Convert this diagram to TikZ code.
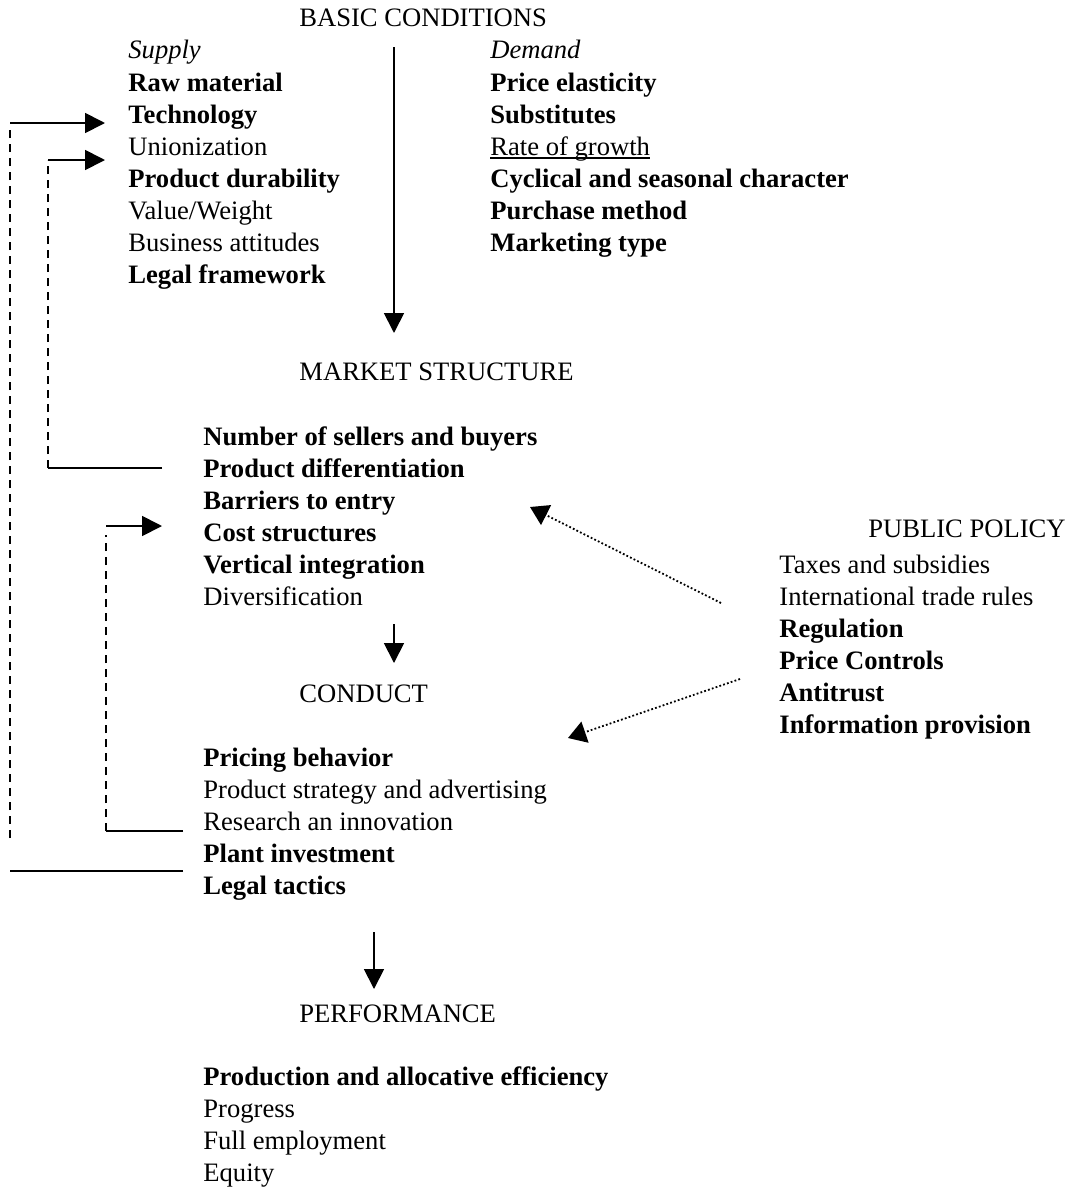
\documentclass[tikz,border=0pt]{standalone}
\usepackage{fontspec}
\setmainfont{Liberation Serif}
\usetikzlibrary{arrows.meta}
\tikzset{
  txt/.style={anchor=base west,inner sep=0pt,font=\fontsize{13.3}{16}\selectfont},
  flow/.style={line width=0.9pt,-{Triangle[width=10pt,length=10pt]}},
  feed/.style={line width=0.9pt},
  back/.style={line width=0.6pt,dash pattern=on 4pt off 3pt},
  pol/.style={line width=0.9pt,dash pattern=on 0.9pt off 1.1pt,-{Triangle[width=11pt,length=9pt]}}
}
\begin{document}
\begin{tikzpicture}[x=0.5pt,y=-0.5pt]
  \useasboundingbox (0,0) rectangle (1071,1190);
  % Basic conditions
  \node[txt] (basic) at (299,26) {BASIC CONDITIONS};
  \node[txt] (supply) at (128,58) {\itshape Supply};
  \node[txt] (demand) at (490,58) {\itshape Demand};
  \foreach \t [count=\i] in {\bfseries Raw material,\bfseries Technology,Unionization,
    \bfseries Product durability,Value/Weight,Business attitudes,\bfseries Legal framework}
    \node[txt] (sup\i) at (128,{59+32*\i}) {\t};
  \foreach \t [count=\i] in {\bfseries Price elasticity,\bfseries Substitutes,Rate of growth,
    \bfseries Cyclical and seasonal character,\bfseries Purchase method,\bfseries Marketing type}
    \node[txt] (dem\i) at (490,{59+32*\i}) {\t};
  \draw[line width=0.9pt] ([yshift=-1.5pt]dem3.base west) -- ([yshift=-1.5pt]dem3.base east);
  % Market structure
  \node[txt] (market) at (299,380) {MARKET STRUCTURE};
  \foreach \t [count=\i] in {\bfseries Number of sellers and buyers,\bfseries Product differentiation,
    \bfseries Barriers to entry,\bfseries Cost structures,\bfseries Vertical integration,Diversification}
    \node[txt] (ms\i) at (203,{413+32*\i}) {\t};
  % Conduct
  \node[txt] (conduct) at (299,702) {CONDUCT};
  \foreach \t [count=\i] in {\bfseries Pricing behavior,Product strategy and advertising,
    Research an innovation,\bfseries Plant investment,\bfseries Legal tactics}
    \node[txt] (cd\i) at (203,{734+32*\i}) {\t};
  % Performance
  \node[txt] (perf) at (299,1022) {PERFORMANCE};
  \foreach \t [count=\i] in {\bfseries Production and allocative efficiency,Progress,
    Full employment,Equity}
    \node[txt] (pf\i) at (203,{1053+32*\i}) {\t};
  % Public policy
  \node[txt,anchor=base east] (policy) at (1066,537) {PUBLIC POLICY};
  \foreach \t [count=\i] in {Taxes and subsidies,International trade rules,\bfseries Regulation,
    \bfseries Price Controls,\bfseries Antitrust,\bfseries Information provision}
    \node[txt] (pp\i) at (779,{541+32*\i}) {\t};
  % Main flow
  \coordinate (bc-out) at (394,47);   \coordinate (ms-in) at (394,333);
  \coordinate (ms-out) at (394,624);  \coordinate (cd-in) at (394,663);
  \coordinate (cd-out) at (374,932);  \coordinate (pf-in) at (374,989);
  \draw[flow] (bc-out) -- (ms-in);
  \draw[flow] (ms-out) -- (cd-in);
  \draw[flow] (cd-out) -- (pf-in);
  % Feedback, outer
  \coordinate (a1) at (183,871); \coordinate (a2) at (10,871);
  \coordinate (a3) at (10,123);  \coordinate (a4) at (105,123);
  \draw[feed] (a1) -- (a2);
  \draw[back] ([yshift=16.5pt]a2) -- ([yshift=-3.5pt]a3);
  \draw[flow] (a3) -- (a4);
  % Feedback, market structure
  \coordinate (b1) at (162,468); \coordinate (b2) at (48,468);
  \coordinate (b3) at (48,160);  \coordinate (b4) at (105,160);
  \draw[feed] (b1) -- (b2);
  \draw[back] (b2) -- (b3);
  \draw[flow] (b3) -- (b4);
  % Feedback, conduct
  \coordinate (c1) at (183,831); \coordinate (c2) at (106,831);
  \coordinate (c3) at (106,526); \coordinate (c4) at (162,526);
  \draw[feed] (c1) -- (c2);
  \draw[back] (c2) -- ([yshift=-4.5pt]c3);
  \draw[flow] (c3) -- (c4);
  % Policy effects
  \coordinate (p1) at (721,603); \coordinate (p2) at (530,507);
  \coordinate (p3) at (740,679); \coordinate (p4) at (568,738);
  \draw[pol] (p1) -- (p2);
  \draw[pol] (p3) -- (p4);
\end{tikzpicture}
\end{document}
